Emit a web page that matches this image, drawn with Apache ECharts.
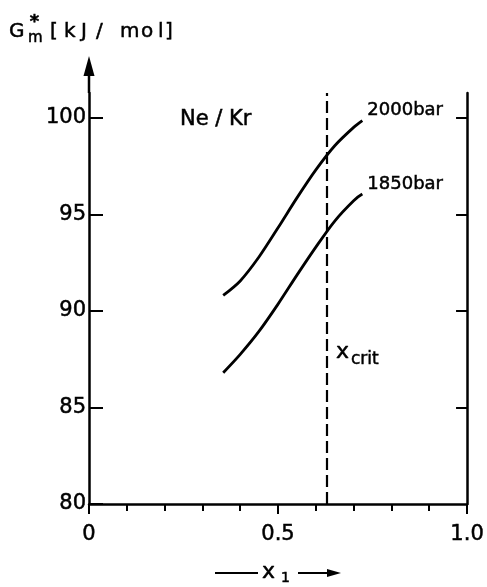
<!DOCTYPE html>
<html>
<head>
<meta charset="utf-8">
<script src="https://cdn.jsdelivr.net/npm/echarts@6/dist/echarts.min.js"></script>
<style>
  html, body { margin: 0; padding: 0; background: #ffffff; }
  #chart { width: 487px; height: 587px; }
</style>
</head>
<body>
<div id="chart"></div>
<script>
// Molar Gibbs energy of Ne/Kr mixtures vs. mole fraction x1
const seriesNames = ['2000bar', '1850bar'];
const x2000 = [0.355, 0.40, 0.45, 0.50, 0.55, 0.60, 0.65, 0.70, 0.723];
const g2000 = [90.8, 91.55, 92.8, 94.3, 95.85, 97.3, 98.55, 99.5, 99.85];
const x1850 = [0.355, 0.40, 0.45, 0.50, 0.55, 0.60, 0.65, 0.70, 0.723];
const g1850 = [86.8, 87.75, 88.95, 90.35, 91.85, 93.3, 94.65, 95.7, 96.05];
const xCrit = 0.632;

const yTicksLeft = [80, 85, 90, 95, 100];
const yTicksRight = [85, 90, 95, 100];
const xTickLabels = { '0': '0', '0.5': '0.5', '1': '1.0' };
const yMin = 80, yMax = 101.28;

const FONT = '"DejaVu Sans"';
const INK = '#000000';

const pairs = (xs, ys) => xs.map((x, i) => [x, ys[i]]);

const chart = echarts.init(document.getElementById('chart'), null, { renderer: 'canvas' });

const curveStyle = { color: INK, width: 2.8 };
const labelInk = { color: INK, fontFamily: 'DejaVu Sans', textBorderColor: INK, textBorderWidth: 0.5 };

chart.setOption({
  animation: false,
  backgroundColor: '#ffffff',
  grid: { left: 89, right: 18, top: 93, bottom: 83, containLabel: false },
  xAxis: {
    type: 'value', min: 0, max: 1, interval: 0.5,
    axisLine: { show: true, lineStyle: { color: INK, width: 2.5 } },
    axisTick: { show: true, inside: false, length: 10, lineStyle: { color: INK, width: 2 } },
    minorTick: { show: true, splitNumber: 5, length: 7, lineStyle: { color: INK, width: 2 } },
    axisLabel: Object.assign({
      margin: 20, fontSize: 21,
      formatter: v => xTickLabels[String(v)] ?? ''
    }, labelInk),
    splitLine: { show: false }
  },
  yAxis: [
    {
      type: 'value', min: yMin, max: yMax, position: 'left',
      axisLine: { show: true, lineStyle: { color: INK, width: 2.5 } },
      axisTick: { show: true, inside: true, length: 14, customValues: yTicksLeft, lineStyle: { color: INK, width: 2 } },
      axisLabel: Object.assign({ show: true, margin: 3, fontSize: 21, customValues: yTicksLeft }, labelInk),
      splitLine: { show: false }
    },
    {
      type: 'value', min: yMin, max: yMax, position: 'right',
      axisLine: { show: true, lineStyle: { color: INK, width: 2.5 } },
      axisTick: { show: true, inside: true, length: 11, customValues: yTicksRight, lineStyle: { color: INK, width: 2 } },
      axisLabel: { show: false },
      splitLine: { show: false }
    }
  ],
  series: [
    {
      name: seriesNames[0], type: 'line', smooth: 0.3, symbol: 'none',
      data: pairs(x2000, g2000), lineStyle: curveStyle, itemStyle: { color: INK },
      endLabel: Object.assign({ show: true, formatter: '{a}', fontSize: 18, distance: 5, offset: [0, -10] }, labelInk),
      markLine: {
        silent: true, symbol: ['none', 'none'],
        lineStyle: { color: INK, width: 2.2, type: [12, 5] },
        label: { show: false },
        data: [{ xAxis: xCrit }]
      }
    },
    {
      name: seriesNames[1], type: 'line', smooth: 0.3, symbol: 'none',
      data: pairs(x1850, g1850), lineStyle: curveStyle, itemStyle: { color: INK },
      endLabel: Object.assign({ show: true, formatter: '{a}', fontSize: 18, distance: 5, offset: [0, -10] }, labelInk)
    }
  ]
});

// Axis decorations and annotations placed from the axis scale
const origin = chart.convertToPixel({ gridIndex: 0 }, [0, yMin]);
const topLeft = chart.convertToPixel({ gridIndex: 0 }, [0, yMax]);
const critPx = chart.convertToPixel({ gridIndex: 0 }, [xCrit, 90]);
const ax = origin[0];

// text placed by its glyph baseline
const txt = (x, baseline, text, size, weight, align) => ({
  type: 'text', x, y: baseline - 0.35 * size,
  style: {
    text, fill: INK, stroke: INK, lineWidth: 0.5,
    font: (weight || 'normal') + ' ' + size + 'px ' + FONT,
    align: align || 'left', verticalAlign: 'middle'
  }
});

const unitChars = [['[', 50], ['k', 64], ['J', 81], ['/', 96], ['m', 120], ['o', 141], ['l', 158], [']', 165]];

chart.setOption({
  graphic: [
    // y axis extends up to an arrow head
    { type: 'line', shape: { x1: ax, y1: topLeft[1], x2: ax, y2: 72 }, style: { stroke: INK, lineWidth: 2.5 } },
    { type: 'polygon', shape: { points: [[ax, 56], [ax - 5.5, 76], [ax + 5.5, 76]] }, style: { fill: INK } },
    // y axis title  G*m [kJ/mol]
    txt(9, 39, 'G', 20),
    txt(28, 43, 'm', 15),
    txt(34.5, 29, '*', 18, 'bold', 'center'),
    ...unitChars.map(([c, x]) => txt(x, 39, c, 20)),
    // system label
    txt(180, 127, 'Ne / Kr', 21),
    // critical composition
    txt(critPx[0] + 8, 360, 'x', 22),
    txt(critPx[0] + 23, 366, 'crit', 17),
    // x axis title  ——x1——>
    { type: 'line', shape: { x1: 215, y1: 573, x2: 258, y2: 573 }, style: { stroke: INK, lineWidth: 2 } },
    txt(262, 580, 'x', 22),
    txt(281, 583, '1', 14),
    { type: 'line', shape: { x1: 298, y1: 573, x2: 330, y2: 573 }, style: { stroke: INK, lineWidth: 2 } },
    { type: 'polygon', shape: { points: [[341, 573], [327, 569], [327, 577]] }, style: { fill: INK } }
  ]
});
</script>
</body>
</html>
